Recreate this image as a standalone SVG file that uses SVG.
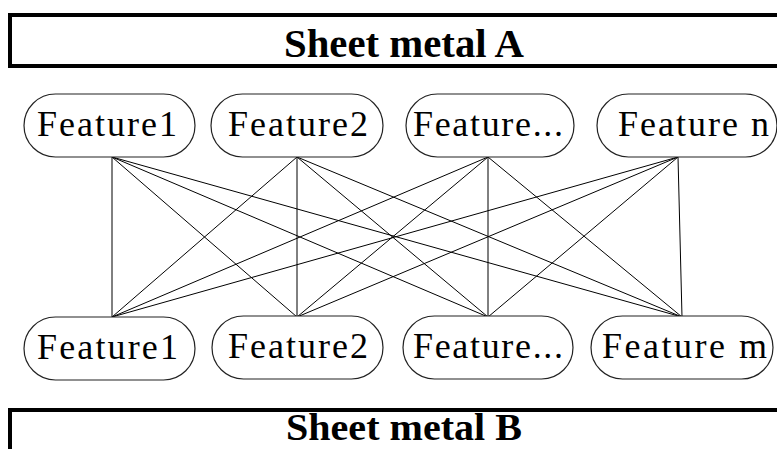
<svg xmlns="http://www.w3.org/2000/svg" width="777" height="449" viewBox="0 0 777 449">
<style>
.sheet{fill:#fff;stroke:#000;stroke-width:4}
.sheet-t{font-family:"Liberation Serif",serif;font-weight:bold;font-size:41px;text-anchor:middle;fill:#000}
.pill{fill:#fff;stroke:#222;stroke-width:1.2}
.lbl{font-family:"Liberation Serif",serif;font-size:36px;fill:#000}
.edge{stroke:#000;stroke-width:1;fill:none}
</style>
<rect width="777" height="449" fill="#fff"/>
<g id="sheetA"><rect class="sheet" x="10" y="15" width="780" height="51"/><text class="sheet-t" x="404" y="57" textLength="240" lengthAdjust="spacingAndGlyphs">Sheet metal A</text></g>
<g id="sheetB"><rect class="sheet" x="10" y="410" width="780" height="60"/><text class="sheet-t" x="404" y="440" style="font-size:37px" textLength="236" lengthAdjust="spacingAndGlyphs">Sheet metal B</text></g>
<g id="connectors">
<line class="edge" x1="112" y1="157" x2="112" y2="317"/>
<line class="edge" x1="112" y1="157" x2="297" y2="317"/>
<line class="edge" x1="112" y1="157" x2="488" y2="317"/>
<line class="edge" x1="112" y1="157" x2="682" y2="317"/>
<line class="edge" x1="297" y1="157" x2="112" y2="317"/>
<line class="edge" x1="297" y1="157" x2="297" y2="317"/>
<line class="edge" x1="297" y1="157" x2="488" y2="317"/>
<line class="edge" x1="297" y1="157" x2="682" y2="317"/>
<line class="edge" x1="488" y1="157" x2="112" y2="317"/>
<line class="edge" x1="488" y1="157" x2="297" y2="317"/>
<line class="edge" x1="488" y1="157" x2="488" y2="317"/>
<line class="edge" x1="488" y1="157" x2="682" y2="317"/>
<line class="edge" x1="678" y1="157" x2="112" y2="317"/>
<line class="edge" x1="678" y1="157" x2="297" y2="317"/>
<line class="edge" x1="678" y1="157" x2="488" y2="317"/>
<line class="edge" x1="678" y1="157" x2="682" y2="317"/>
</g>
<g id="topF1"><rect class="pill" x="24" y="94" width="171" height="63" rx="31.5"/><text class="lbl" x="37" y="136" textLength="140" lengthAdjust="spacing">Feature1</text></g>
<g id="topF2"><rect class="pill" x="211" y="94" width="172" height="63" rx="31.5"/><text class="lbl" x="228" y="136" textLength="140" lengthAdjust="spacing">Feature2</text></g>
<g id="topF3"><rect class="pill" x="406" y="94" width="168" height="63" rx="31.5"/><text class="lbl" x="413" y="136" textLength="150" lengthAdjust="spacing">Feature...</text></g>
<g id="topFn"><rect class="pill" x="597" y="94" width="180" height="63" rx="31.5"/><text class="lbl" x="618" y="136" textLength="151" lengthAdjust="spacing">Feature n</text></g>
<g id="botF1"><rect class="pill" x="24" y="317" width="171" height="63" rx="31.5"/><text class="lbl" x="37" y="359" textLength="141" lengthAdjust="spacing">Feature1</text></g>
<g id="botF2"><rect class="pill" x="212" y="316" width="171" height="63" rx="31.5"/><text class="lbl" x="228" y="358" textLength="140" lengthAdjust="spacing">Feature2</text></g>
<g id="botF3"><rect class="pill" x="403" y="316" width="170" height="63" rx="31.5"/><text class="lbl" x="413" y="358" textLength="150" lengthAdjust="spacing">Feature...</text></g>
<g id="botFm"><rect class="pill" x="591" y="316" width="182" height="63" rx="31.5"/><text class="lbl" x="602" y="358" textLength="165" lengthAdjust="spacing">Feature m</text></g>
</svg>
